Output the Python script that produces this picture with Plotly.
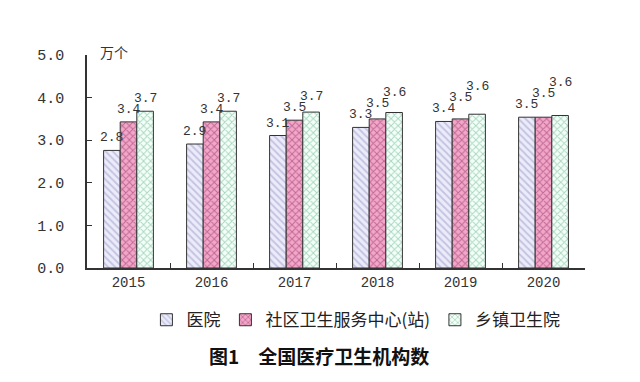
import plotly.graph_objects as go

years = ["2015", "2016", "2017", "2018", "2019", "2020"]
hospital = [2.76, 2.91, 3.11, 3.30, 3.44, 3.54]
community = [3.43, 3.43, 3.47, 3.50, 3.50, 3.54]
township = [3.68, 3.68, 3.66, 3.65, 3.61, 3.58]
names = ["医院", "社区卫生服务中心(站)", "乡镇卫生院"]
y_ticks = [0, 1, 2, 3, 4, 5]

mono = "Liberation Mono, DejaVu Sans Mono, monospace"
cjk = "Noto Sans CJK SC, sans-serif"

styles = [
    dict(shape="\\", bg="#ebebfa", fg="#9a9ac8"),
    dict(shape="x", bg="#f2a6c8", fg="#8c2a5e"),
    dict(shape="x", bg="#f4fff9", fg="#5fae88"),
]

W, H = 632, 374
M = dict(l=79, r=55, t=47, b=114)
y_max = 5.0
bargap = 0.4
plot_w = W - M["l"] - M["r"]
plot_h = H - M["t"] - M["b"]
px_per_unit = plot_h / y_max
bar_px = plot_w / len(years) * (1 - bargap) / 3

series = [hospital, community, township]

fig = go.Figure()
for vals, name, st in zip(series, names, styles):
    fig.add_trace(go.Bar(
        x=years, y=vals, name=name,
        cliponaxis=False,
        marker=dict(
            color=st["bg"],
            line=dict(color="#333", width=1),
            pattern=dict(shape=st["shape"], fgcolor=st["fg"], bgcolor=st["bg"],
                         size=5, solidity=0.35, fillmode="overlay"),
        ),
    ))

# value labels with simple collision avoidance (labels staggered upwards when close)
annotations = []
gap, min_sep = 3, 11
for j, yr in enumerate(years):
    prev_bottom = None
    for i, vals in enumerate(series):
        v = vals[j]
        base = v * px_per_unit + gap
        if prev_bottom is not None and base < prev_bottom + min_sep:
            base = prev_bottom + min_sep
        prev_bottom = base
        annotations.append(dict(
            x=j, y=v, xref="x", yref="y", text=f"{v:.1f}",
            xshift=(i - 1) * bar_px, yshift=base - v * px_per_unit,
            yanchor="bottom", xanchor="center", showarrow=False,
            font=dict(family=mono, size=13, color="#333"),
        ))

annotations += [
    dict(text="万个", x=0.022, y=1.07, xref="paper", yref="paper",
         showarrow=False, font=dict(family=cjk, size=14, color="#333")),
    dict(text="<b>图1　全国医疗卫生机构数</b>", x=0.465, y=-0.41, xref="paper", yref="paper",
         yanchor="middle",
         showarrow=False, font=dict(family=cjk, size=19, color="#111")),
]

fig.update_layout(
    width=W, height=H,
    margin=M,
    paper_bgcolor="white", plot_bgcolor="white",
    barmode="group", bargap=bargap, bargroupgap=0,
    showlegend=True,
    legend=dict(orientation="h", x=0.54, xanchor="center", y=-0.245, yanchor="middle",
                font=dict(family=cjk, size=17, color="#222"),
                itemwidth=30, tracegroupgap=0),
    xaxis=dict(type="category", range=[-0.5, len(years) - 0.5],
               showline=True, linecolor="#333", linewidth=1.5,
               ticks="inside", tickson="boundaries", ticklen=5, tickcolor="#333",
               tickfont=dict(family=mono, size=14, color="#333"),
               showgrid=False),
    yaxis=dict(range=[0, y_max], tickvals=y_ticks, tickformat=".1f",
               showline=True, linecolor="#333", linewidth=1.5,
               ticks="inside", ticklen=5, tickcolor="#333",
               tickfont=dict(family=mono, size=15, color="#333"),
               ticklabelstandoff=18,
               showgrid=False, zeroline=False),
    annotations=annotations,
)

fig.write_html("out.html")
